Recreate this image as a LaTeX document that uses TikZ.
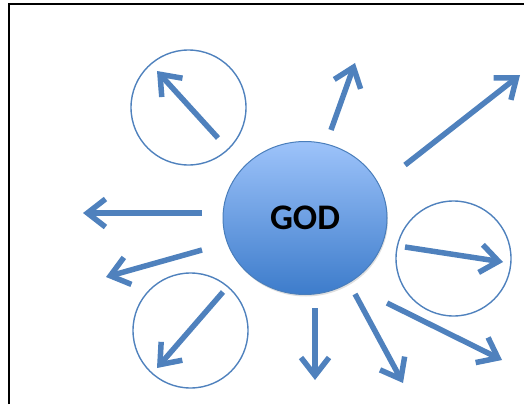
\documentclass[tikz,border=0pt]{standalone}
\usepackage{fontspec}
\newfontfamily\godfont{Carlito}
\usetikzlibrary{shapes.geometric,arrows.meta,shadows}
\definecolor{rayblue}{HTML}{4F81BD}
\definecolor{godtop}{HTML}{9DC3FA}
\definecolor{godbottom}{HTML}{3D7CCB}
\definecolor{godline}{HTML}{4A7EBB}
\tikzset{
  ray/.style={draw=rayblue, line width=5.5pt, -{Straight Barb[length=18pt,width=28pt]}},
  ring/.style={circle, draw=rayblue, line width=1.4pt, minimum size=115pt, inner sep=0pt},
  god/.style={ellipse, draw=godline, line width=1pt, top color=godtop, bottom color=godbottom,
    minimum width=164pt, minimum height=153pt, inner sep=0pt,
    drop shadow={opacity=0.25, shadow xshift=1pt, shadow yshift=-2pt},
    font=\godfont\bfseries\fontsize{36}{40}\selectfont}
}
\begin{document}
\begin{tikzpicture}[x=1pt, y=-1pt]
  \useasboundingbox (0,0) rectangle (524,404);
  % frame
  \draw[line width=2pt] (9,404) -- (9,4) -- (524,4);
  % centre
  \node[god] (god) at (305,218) {GOD};
  % circled rays
  \node[ring] (ringnw) at (188.5,107.5) {};
  \node[ring] (ringe) at (453.5,258.5) {};
  \node[ring] (ringsw) at (190.5,330.5) {};
  % rays
  \foreach \n/\ax/\ay/\bx/\by in {
      nw/218/138/157/71,
      n/331/130/355/63,
      ne/405/165/520/75,
      w/202/213/83/213,
      wsw/202/250/106/277,
      sw/223/292/157/368,
      s/315/308/315/380,
      sse/355/294/403/383,
      ese/387/303/502/360,
      e/405/247/503/262} {
    \coordinate (tail\n) at (\ax,\ay);
    \coordinate (tip\n) at (\bx,\by);
    \draw[ray] (tail\n) -- (tip\n);
  }
\end{tikzpicture}
\end{document}
